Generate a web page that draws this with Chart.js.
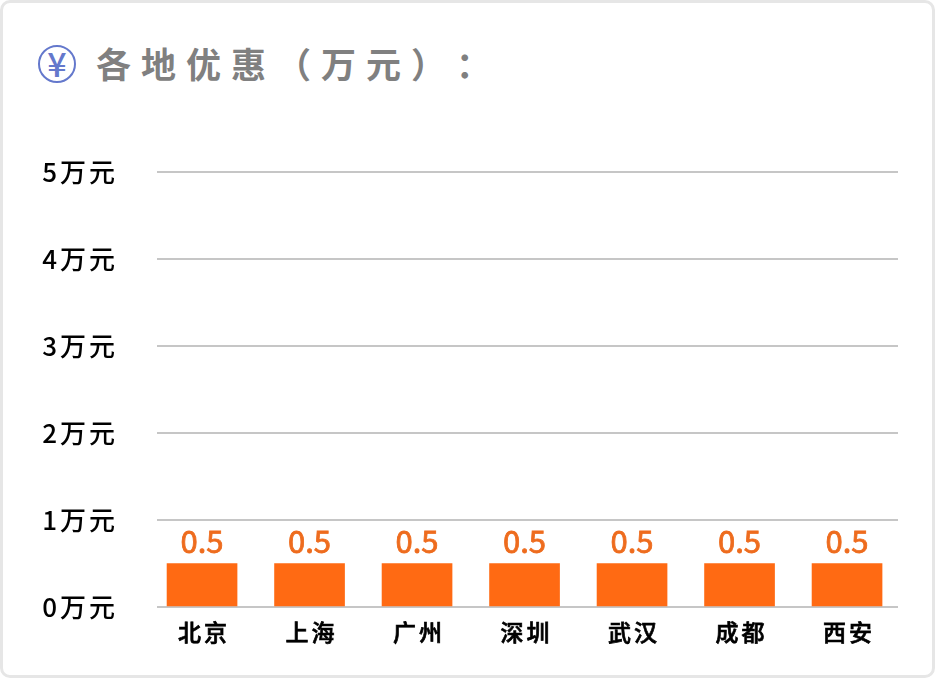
<!DOCTYPE html>
<html>
<head>
<meta charset="utf-8">
<style>
  html, body { margin: 0; padding: 0; background: #fff; }
  #frame { position: absolute; left: 0; top: 0; width: 935px; height: 678px; box-sizing: border-box;
    border: 3px solid #e6e6e6; border-radius: 10px; }
  #icon { position: absolute; left: 38px; top: 45px; width: 38px; height: 38px; box-sizing: border-box;
    border: 2px solid #6478cc; border-radius: 50%; color: #6478cc; text-align: center;
    font: 500 34px/32px "Noto Sans CJK SC"; }
  #title { position: absolute; left: 96px; top: 38px; white-space: nowrap; color: #808080;
    font: bold 35px/50px "Noto Sans CJK SC"; letter-spacing: 10px;
    font-kerning: none; text-spacing-trim: space-all; }
  canvas { position: absolute; left: 0; top: 0; }
</style>
</head>
<body>
<div id="frame"></div>
<div id="icon">¥</div>
<div id="title">各地优惠（万元）：</div>
<div style="position:absolute;left:0;top:0;width:935px;height:678px"><canvas id="myChart"></canvas></div>
<script src="https://cdn.jsdelivr.net/npm/chart.js@4/dist/chart.umd.min.js"></script>
<script>
const cities = ['北京', '上海', '广州', '深圳', '武汉', '成都', '西安']
const discounts = [0.5, 0.5, 0.5, 0.5, 0.5, 0.5, 0.5]
const yTickLabels = ['0万元', '1万元', '2万元', '3万元', '4万元', '5万元']

const orange = '#ff6a13'
const gridGrey = '#c6c6c6'

// canvas resets its state on resize, so spacing is set again before each draw
const spacedText = {
  id: 'spacedText',
  beforeDraw: (chart) => {
    chart.ctx.letterSpacing = '3px'
  },
  beforeDatasetsDraw: (chart) => {
    chart.ctx.letterSpacing = '0px'
  },
  afterDatasetsDraw: (chart) => {
    const ctx = chart.ctx
    ctx.save()
    ctx.fillStyle = '#ee6c1e'
    ctx.strokeStyle = '#ee6c1e'
    ctx.lineWidth = 0.8
    ctx.font = '31px "Noto Sans CJK SC"'
    ctx.textAlign = 'center'
    ctx.textBaseline = 'bottom'
    chart.getDatasetMeta(0).data.forEach((bar, i) => {
      ctx.fillText(discounts[i].toFixed(1), bar.x, bar.y - 7)
      ctx.strokeText(discounts[i].toFixed(1), bar.x, bar.y - 7)
    })
    ctx.restore()
    ctx.letterSpacing = '3px'
  },
}

const ctx = document.getElementById('myChart').getContext('2d')
const myChart = new Chart(ctx, {
  type: 'bar',
  data: {
    datasets: [
      {
        data: discounts.map((v, i) => ({ x: i, y: v })),
        backgroundColor: orange,
        borderWidth: 0,
        barThickness: 70,
      },
    ],
  },
  options: {
    responsive: true,
    maintainAspectRatio: false,
    animation: false,
    layout: { padding: { left: 0, right: 37, top: 172, bottom: 0 } },
    plugins: { legend: { display: false }, tooltip: { enabled: false } },
    scales: {
      x: {
        type: 'linear',
        offset: false,
        min: -0.419,
        max: 6.474,
        afterBuildTicks: (axis) => {
          axis.ticks = cities.map((c, i) => ({ value: i }))
        },
        afterFit: (axis) => {
          axis.height = 71
        },
        grid: { display: false },
        border: { display: false },
        ticks: {
          autoSkip: false,
          maxRotation: 0,
          padding: 3,
          labelOffset: 2,
          color: '#000',
          textStrokeColor: '#000',
          textStrokeWidth: 0.7,
          font: { family: '"Noto Sans CJK SC"', size: 23, weight: '500' },
          callback: (value) => cities[value],
        },
      },
      y: {
        min: 0,
        max: 5,
        afterFit: (axis) => {
          axis.width = 157
        },
        grid: { color: gridGrey, lineWidth: 2, drawTicks: false },
        border: { display: false },
        ticks: {
          stepSize: 1,
          padding: 39,
          color: '#000',
          font: { family: '"Noto Sans CJK SC"', size: 26, weight: '500' },
          callback: (value) => yTickLabels[value],
        },
      },
    },
  },
  plugins: [spacedText],
})
</script>
</body>
</html>
